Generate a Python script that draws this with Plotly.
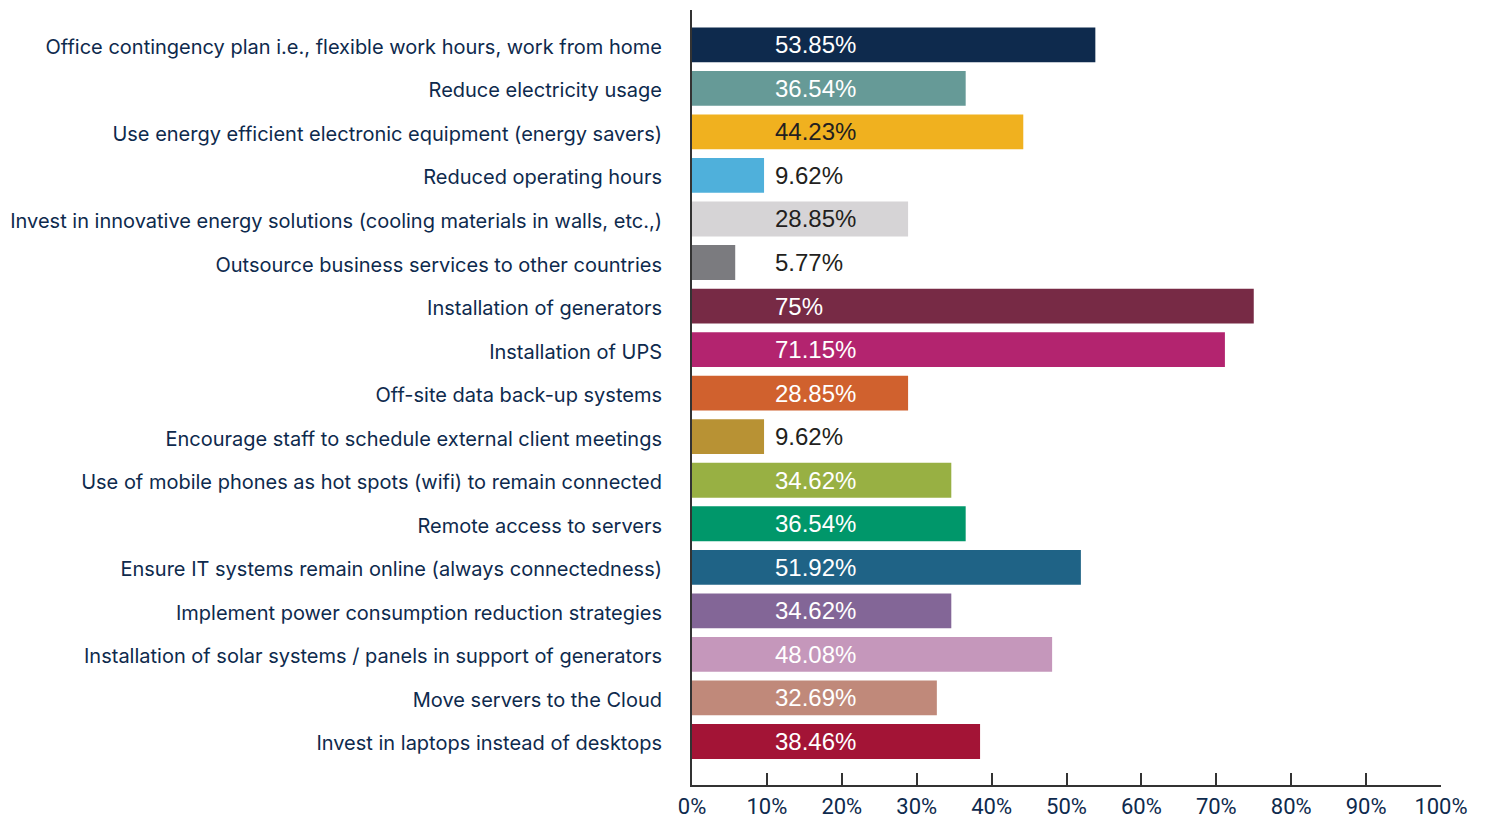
import plotly.graph_objects as go

categories = [
    "Office contingency plan i.e., flexible work hours, work from home",
    "Reduce electricity usage",
    "Use energy efficient electronic equipment (energy savers)",
    "Reduced operating hours",
    "Invest in innovative energy solutions (cooling materials in walls, etc.,)",
    "Outsource business services to other countries",
    "Installation of generators",
    "Installation of UPS",
    "Off-site data back-up systems",
    "Encourage staff to schedule external client meetings",
    "Use of mobile phones as hot spots (wifi) to remain connected",
    "Remote access to servers",
    "Ensure IT systems remain online (always connectedness)",
    "Implement power consumption reduction strategies",
    "Installation of solar systems / panels in support of generators",
    "Move servers to the Cloud",
    "Invest in laptops instead of desktops",
]
values = [53.85, 36.54, 44.23, 9.62, 28.85, 5.77, 75, 71.15, 28.85, 9.62,
          34.62, 36.54, 51.92, 34.62, 48.08, 32.69, 38.46]
value_labels = ["53.85%", "36.54%", "44.23%", "9.62%", "28.85%", "5.77%", "75%",
                "71.15%", "28.85%", "9.62%", "34.62%", "36.54%", "51.92%",
                "34.62%", "48.08%", "32.69%", "38.46%"]
bar_colors = ["#0e2a4d", "#669a97", "#f0b11f", "#4fb0db", "#d6d4d6", "#7b7b7f",
              "#772a45", "#b3246f", "#d0612e", "#b89234", "#98b043", "#00976a",
              "#1f6386", "#836697", "#c597bb", "#c0897a", "#a31436"]
label_colors = ["#ffffff", "#ffffff", "#231f20", "#231f20", "#231f20", "#231f20",
                "#ffffff", "#ffffff", "#ffffff", "#231f20", "#ffffff", "#ffffff",
                "#ffffff", "#ffffff", "#ffffff", "#ffffff", "#ffffff"]
x_ticks = [0, 10, 20, 30, 40, 50, 60, 70, 80, 90, 100]

navy = "#0e2a4d"
axis_color = "#333333"

fig = go.Figure()
fig.add_trace(go.Bar(
    x=values,
    y=categories,
    orientation="h",
    marker=dict(color=bar_colors, line=dict(width=0)),
    hoverinfo="x+y",
))

# value labels sit at a fixed offset from the axis
for cat, lab, col in zip(categories, value_labels, label_colors):
    fig.add_annotation(
        x=10.85, y=cat, text=lab, showarrow=False,
        xanchor="left", yanchor="middle",
        font=dict(family="Liberation Sans, Arial, sans-serif", size=24, color=col),
    )

fig.update_layout(
    width=1494, height=821,
    margin=dict(l=692, r=53, t=10, b=36),
    paper_bgcolor="white", plot_bgcolor="white",
    bargap=0.2,
    showlegend=False,
    xaxis=dict(
        range=[0, 100],
        tickvals=x_ticks,
        ticktext=[f"{t}%" for t in x_ticks],
        ticks="inside", ticklen=12, tickwidth=2, tickcolor=axis_color,
        showline=True, linecolor=axis_color, linewidth=2,
        showgrid=False, zeroline=False,
        tickfont=dict(family="Roboto, sans-serif", size=22, color=navy),
        ticklabelstandoff=1,
        automargin=False,
    ),
    yaxis=dict(
        categoryorder="array", categoryarray=categories,
        range=[17.0, -0.8],
        showline=True, linecolor=axis_color, linewidth=2,
        showgrid=False, zeroline=False, ticks="",
        tickfont=dict(family="Inter, sans-serif", size=20, color=navy),
        ticklabelstandoff=24,
        ticklabelshift=-2,
        automargin=False,
    ),
)

fig.write_html("out.html")
